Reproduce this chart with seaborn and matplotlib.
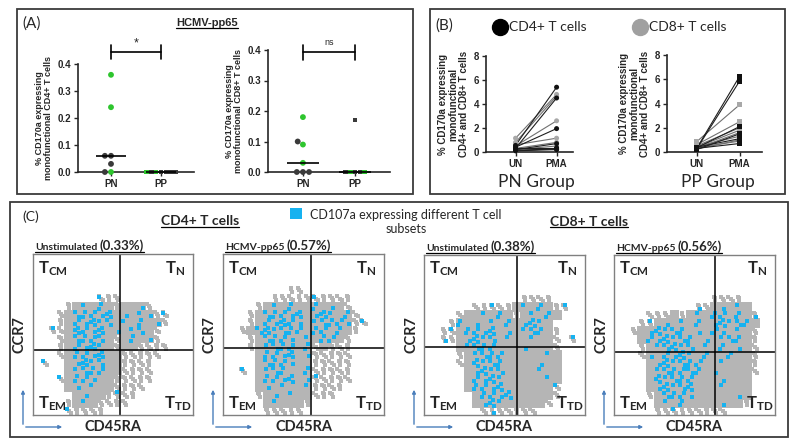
import numpy as np
import pandas as pd
import matplotlib
matplotlib.use('Agg')
import matplotlib.pyplot as plt
import seaborn as sns
from matplotlib.patches import Rectangle, FancyArrowPatch
from matplotlib.lines import Line2D

# ---------------- panel A : HCMV-pp65 dot plots ----------------
a_groups = ['PN', 'PP']
cd4_pn = [0.36, 0.24, 0.06, 0.06, 0.03, 0.0, 0.0]
cd4_pn_col = ['g', 'g', 'k', 'k', 'k', 'k', 'g']
cd4_pp = [0.0, 0.0, 0.0, 0.0, 0.0, 0.0, 0.0]
cd4_pp_col = ['k', 'g', 'k', 'k', 'k', 'g', 'k']
cd8_pn = [0.18, 0.09, 0.10, 0.03, 0.0, 0.0, 0.0]
cd8_pn_col = ['g', 'g', 'k', 'g', 'k', 'k', 'k']
cd8_pp = [0.17, 0.0, 0.0, 0.0, 0.0, 0.0]
cd8_pp_col = ['k', 'k', 'g', 'k', 'k', 'g']

# ---------------- panel B : UN vs PMA paired lines ----------------
b_times = ['UN', 'PMA']
pn_cd4_un = [0.55, 0.30, 0.40, 0.20, 0.35, 0.15, 0.10]
pn_cd4_pma = [5.4, 4.5, 1.95, 0.70, 0.35, 0.25, 0.20]
pn_cd8_un = [1.15, 0.80, 0.50, 0.60, 0.30, 0.20, 0.10]
pn_cd8_pma = [4.8, 4.65, 2.6, 1.15, 0.80, 0.50, 0.30]
pp_cd4_un = [0.30, 0.25, 0.35, 0.20, 0.40, 0.30]
pp_cd4_pma = [6.25, 5.85, 2.1, 1.5, 1.1, 0.7]
pp_cd8_un = [0.85, 0.60, 0.50, 0.40, 0.30, 0.45, 0.25, 0.35]
pp_cd8_pma = [3.9, 2.5, 2.0, 1.8, 1.6, 1.3, 1.0, 0.9]

# ---------------- panel C : flow plots, density ----------------
# '.' empty, ':' few grey events, '#' dense grey, '+' dense + cyan, '*' dense + more cyan, 'o' few grey + cyan
grid_cd4_un = [
    "....................",
    "....................",
    "....................",
    "....................",
    "....................",
    "........o::.........",
    "....:#+#+#:##+:.....",
    "...:#*+*+*#+#++:o...",
    "...:#*+*+*#+#+#+:...",
    "..o:#**+*#+#+*#:....",
    "...:#*+**#:#+#+:....",
    "...:#*+*+#:##::::...",
    "...:#+*+*##:::::....",
    ".o..#+*+*##::::.....",
    "....#+*+*##::::.....",
    "...o#+*+##:::::.....",
    "....#+#+##::::......",
    ".....#+##:o::.......",
    "....:#+#::::........",
    "....o::::...........",
]
grid_cd4_pp65 = [
    "....................",
    "....................",
    "....................",
    "....................",
    "........::..........",
    "......:::::o::::....",
    "....:#+#+##+#+#:....",
    "...:#*+*+*#+*+#+:...",
    "...:#*+**+#+*+*+:o..",
    "..:#**+*+*#+*#+#:...",
    "...:#*+*+#+#+*#:....",
    "...:#+*+*#+:#:::....",
    "....#+*+*#+:::::....",
    "....#*+*+##:::::....",
    "..o.#+*+##+:::::....",
    "....#+*+*#+o::::....",
    "....#+#+##+::::.....",
    "....:#+#+##:::......",
    ".....#+###:.........",
    ".....:::::..........",
]
grid_cd8_un = [
    "....................",
    "....................",
    "....................",
    "....................",
    "....................",
    "............::::....",
    "......::o::#+#+#:o..",
    "....:##+#+#:#+#+#...",
    "...:+#+#+#+#+*+#....",
    "..:o#+*+*#+#+*+#:...",
    "..o:#+*+*#+##+##:.o.",
    "....#+*+*###+###:...",
    "....:#+*+*#####+#...",
    "....:#*+*+####+##...",
    ".....#+*+*####+##...",
    ".....#*+*+#####+#...",
    ".....#+*+*######o...",
    "......#+*+*#####:...",
    "......#+*+#####:....",
    ".......:o:::::......",
]
grid_cd8_pp65 = [
    "....................",
    "....................",
    "....................",
    "....................",
    "....................",
    "............::::....",
    "..........o:#+#+#...",
    "....:::#:#+#+*#+#o..",
    "...:o#+#+#+#+*+*+#..",
    "..:#+*+*+#+#*+#+#:..",
    "...#*+*+*+#+#+*+#:..",
    "...:#+**+*#+#+#+#:..",
    "...:+#*+*+#+##+##:..",
    "....#+*+*+*##+###:..",
    "....#+*+**+#+####:..",
    "....#*+*+*###+###...",
    "....#+*+**###+###...",
    "....:#*+*+#####+#...",
    ".....#+#+####+##:...",
    ".....::o::::::......",
]
flow_grids = [grid_cd4_un, grid_cd4_pp65, grid_cd8_un, grid_cd8_pp65]
flow_titles = ['Unstimulated', 'HCMV-pp65', 'Unstimulated', 'HCMV-pp65']
flow_pcts = ['(0.33%)', '(0.57%)', '(0.38%)', '(0.56%)']
flow_gate_x = [10.85, 10.97, 11.6, 12.5]
flow_gate_y = [8.1, 8.28, 8.49, 7.87]

W, H = 800, 447
sns.set_style('ticks')
plt.rcParams['font.family'] = ['Liberation Sans', 'DejaVu Sans']
plt.rcParams['mathtext.fontset'] = 'custom'
plt.rcParams['mathtext.bf'] = 'Lato:bold'
plt.rcParams['mathtext.rm'] = 'Lato'
plt.rcParams['mathtext.it'] = 'Lato:italic'
CAL = ['Lato', 'DejaVu Sans']

fig = plt.figure(figsize=(8, 4.47), dpi=100)
fig.patch.set_facecolor('white')


def rect(x0, y0, x1, y1):
    return [x0 / W, 1 - y1 / H, (x1 - x0) / W, (y1 - y0) / H]


def fx(x):
    return x / W


def fy(y):
    return 1 - y / H


# panel frames
for x0, y0, x1, y1 in [(17, 9, 413, 194), (430, 9, 785, 194), (10, 202, 788, 437)]:
    fig.add_artist(Rectangle((fx(x0), fy(y1)), (x1 - x0) / W, (y1 - y0) / H,
                             transform=fig.transFigure, fill=False, ec='#3a3a3a', lw=1.3))

# ---------- panel A ----------
dot_pal = {'g': '#2ec52e', 'k': '#3a3a3a'}


def dot_panel(ax, pn, pn_c, pp, pp_c, ylab, bar_y, star, star_y):
    pn_df = pd.DataFrame({'group': 'PN', 'value': pn, 'c': pn_c})
    pp_df = pd.DataFrame({'group': 'PP', 'value': pp, 'c': pp_c})
    sns.swarmplot(data=pn_df, x='group', y='value', hue='c', order=a_groups, palette=dot_pal,
                  marker='o', size=4.2, ax=ax, legend=False, clip_on=False, zorder=3)
    sns.swarmplot(data=pp_df, x='group', y='value', hue='c', order=a_groups, palette=dot_pal,
                  marker='s', size=3.3, ax=ax, legend=False, clip_on=False, zorder=3)
    for i, vals in enumerate([pn, pp]):
        ax.hlines(np.median(vals), i - 0.3, i + 0.3, color='black', lw=1.2, zorder=4, clip_on=False)
    ax.set_ylim(0, 0.4)
    ax.set_yticks([0, 0.1, 0.2, 0.3, 0.4])
    ax.set_yticklabels(['0.0', '0.1', '0.2', '0.3', '0.4'])
    ax.set_xlabel('')
    ax.set_ylabel(ylab, fontsize=6.5, fontweight='bold', labelpad=3, linespacing=1.05)
    ax.tick_params(labelsize=7, length=3, width=1, pad=2)
    for lab in ax.get_xticklabels() + ax.get_yticklabels():
        lab.set_fontweight('bold')
    sns.despine(ax=ax)
    for s in ['left', 'bottom']:
        ax.spines[s].set_linewidth(1.2)
    ax.plot([0, 1], [bar_y, bar_y], color='black', lw=1.2, clip_on=False)
    d = 0.025
    ax.plot([0, 0], [bar_y - d, bar_y + d], color='black', lw=1.2, clip_on=False)
    ax.plot([1, 1], [bar_y - d, bar_y + d], color='black', lw=1.2, clip_on=False)
    ax.text(0.5, star_y, star, ha='center', va='center', fontsize=9 if star == '*' else 6.5)


axA1 = fig.add_axes(rect(78, 64, 194, 172))
dot_panel(axA1, cd4_pn, cd4_pn_col, cd4_pp, cd4_pp_col,
          '% CD170a expressing\nmonofunctional CD4+ T cells', 0.445, '*', 0.475)
axA1.set_xlim(-0.66, 1.66)
axA2 = fig.add_axes(rect(268, 50, 390, 172))
dot_panel(axA2, cd8_pn, cd8_pn_col, cd8_pp, cd8_pp_col,
          '% CD170a expressing\nmonofunctional CD8+ T cells', 0.393, 'ns', 0.425)
axA2.set_xlim(-0.67, 1.67)

fig.text(fx(22), fy(24), '(A)', fontsize=11, family=CAL, va='center')
t_hcmv = fig.text(fx(207), fy(23), 'HCMV-pp65', fontsize=8, fontweight='bold', ha='center', va='center')

# ---------- panel B ----------
line_pal = {'CD4': '#1e1e1e', 'CD8': '#707070'}
mark_pal = {'CD4': '#111111', 'CD8': '#a8a8a8'}


def paired_df(cd4_un, cd4_pma, cd8_un, cd8_pma):
    rows = []
    for cell, un, pma in [('CD8', cd8_un, cd8_pma), ('CD4', cd4_un, cd4_pma)]:
        for i, (a, b) in enumerate(zip(un, pma)):
            rows.append((cell, f'{cell}-{i}', b_times[0], a))
            rows.append((cell, f'{cell}-{i}', b_times[1], b))
    return pd.DataFrame(rows, columns=['cell', 'subject', 'time', 'value'])


def paired_panel(ax, df, marker):
    sns.lineplot(data=df, x='time', y='value', hue='cell', units='subject', estimator=None,
                 palette=line_pal, lw=0.8, ax=ax, legend=False, sort=False)
    sns.scatterplot(data=df, x='time', y='value', hue='cell', palette=mark_pal, marker=marker,
                    s=13, linewidth=0, ax=ax, legend=False, zorder=3, clip_on=False)
    ax.set_ylim(0, 8)
    ax.set_yticks([0, 2, 4, 6, 8])
    ax.set_xlabel('')
    ax.set_ylabel('% CD170a expressing\nmonofunctional\nCD4+ and CD8+ T cells',
                  fontsize=7, fontweight='bold', labelpad=3, linespacing=1.1)
    ax.tick_params(labelsize=7, length=3, width=1, pad=2)
    for lab in ax.get_xticklabels() + ax.get_yticklabels():
        lab.set_fontweight('bold')
    sns.despine(ax=ax)
    for s in ['left', 'bottom']:
        ax.spines[s].set_linewidth(1.2)


axB1 = fig.add_axes(rect(486, 56, 573, 152))
paired_panel(axB1, paired_df(pn_cd4_un, pn_cd4_pma, pn_cd8_un, pn_cd8_pma), 'o')
axB1.set_xlim(-0.72, 1.4)
axB2 = fig.add_axes(rect(667, 55, 762, 152))
paired_panel(axB2, paired_df(pp_cd4_un, pp_cd4_pma, pp_cd8_un, pp_cd8_pma), 's')
axB2.set_xlim(-0.69, 1.52)

fig.text(fx(536), fy(182), 'PN Group', fontsize=12.5, family=CAL, ha='center', va='center')
fig.text(fx(718), fy(182), 'PP Group', fontsize=12.5, family=CAL, ha='center', va='center')
fig.text(fx(435), fy(26), '(B)', fontsize=11, family=CAL, va='center')
fig.add_artist(Line2D([fx(500)], [fy(27)], marker='o', ms=11.5, color='black', transform=fig.transFigure))
fig.text(fx(509), fy(27), 'CD4+ T cells', fontsize=10, family=CAL, va='center')
fig.add_artist(Line2D([fx(640)], [fy(27)], marker='o', ms=11.5, color='#a0a0a0', transform=fig.transFigure))
fig.text(fx(649), fy(27), 'CD8+ T cells', fontsize=10, family=CAL, va='center')

# ---------- panel C ----------
gray_c = '#b5b5b5'
cyan_c = '#16b2f0'
# where the cyan events sit inside one grid cell (fractions of the cell)
plus_spots = [[(0.3, 0.7)], [(0.7, 0.3)], [(0.5, 0.8), (0.2, 0.2)]]
star_spots = [[(0.2, 0.25), (0.75, 0.75)], [(0.8, 0.2), (0.25, 0.8)], [(0.2, 0.5), (0.75, 0.15), (0.6, 0.85)]]


def grid_points(grid):
    n = len(grid)
    gx, gy, cx, cy = [], [], [], []
    for r, row in enumerate(grid):
        row = row.ljust(20, '.')[:20]
        for c, ch in enumerate(row):
            y0 = n - 1 - r
            if ch in '#+*':
                for i in range(3):
                    for j in range(3):
                        gx.append(c + (i + 0.5) / 3)
                        gy.append(y0 + (j + 0.5) / 3)
            elif ch in ':o':
                k = (r + 2 * c) % 3
                gx += [c + 0.2 + 0.1 * k, c + 0.75 - 0.1 * k, c + 0.5]
                gy += [y0 + 0.75, y0 + 0.25, y0 + 0.45 + 0.1 * k]
            k = (2 * r + c) % 3
            if ch == 'o':
                cx.append(c + plus_spots[k][0][0])
                cy.append(y0 + plus_spots[k][0][1])
            elif ch == '+':
                cx += [c + p[0] for p in plus_spots[k]]
                cy += [y0 + p[1] for p in plus_spots[k]]
            elif ch == '*':
                cx += [c + p[0] for p in star_spots[k]]
                cy += [y0 + p[1] for p in star_spots[k]]
    return pd.DataFrame({'x': gx, 'y': gy}), pd.DataFrame({'x': cx, 'y': cy})


flow_boxes = [(33, 254, 193, 415), (223, 254, 384, 415), (424, 255, 585, 415), (614, 255, 775, 415)]
title_texts = []
for k, (x0, y0, x1, y1) in enumerate(flow_boxes):
    ax = fig.add_axes(rect(x0, y0, x1, y1))
    g_df, c_df = grid_points(flow_grids[k])
    sns.scatterplot(data=g_df, x='x', y='y', color=gray_c, marker='s', s=5.5, linewidth=0, ax=ax)
    sns.scatterplot(data=c_df, x='x', y='y', color=cyan_c, marker='s', s=6.5, linewidth=0, ax=ax)
    ax.axvline(flow_gate_x[k], color='black', lw=1.1)
    ax.axhline(flow_gate_y[k], color='black', lw=1.1)
    ax.set_xlim(0, 20)
    ax.set_ylim(0, 20)
    ax.set_xticks([])
    ax.set_yticks([])
    ax.set_xlabel('')
    ax.set_ylabel('')
    for s in ax.spines.values():
        s.set_color('#808080')
        s.set_linewidth(1)
    lab = dict(transform=ax.transAxes, fontsize=12)
    ax.text(0.03, 0.97, r'$\mathbf{T_{CM}}$', ha='left', va='top', **lab)
    ax.text(0.95, 0.97, r'$\mathbf{T_{N}}$', ha='right', va='top', **lab)
    ax.text(0.03, 0.01, r'$\mathbf{T_{EM}}$', ha='left', va='bottom', **lab)
    ax.text(0.99, 0.01, r'$\mathbf{T_{TD}}$', ha='right', va='bottom', **lab)
    fig.text(fx(x0 - 13), fy((y0 + y1) / 2), 'CCR7', rotation=90, fontsize=10.5, fontweight='bold',
             family=CAL, ha='center', va='center')
    fig.text(fx((x0 + x1) / 2), fy(y1 + 12), 'CD45RA', fontsize=10.5, fontweight='bold',
             family=CAL, ha='center', va='center')
    ox, oy = x0 - 10, y1 + 12
    for ex, ey in [(ox, oy - 40), (ox + 42, oy)]:
        fig.add_artist(FancyArrowPatch((fx(ox), fy(oy)), (fx(ex), fy(ey)), transform=fig.transFigure,
                                       arrowstyle='-|>', mutation_scale=5, color='#4a7ebb', lw=1))
    t1 = fig.text(fx(x0 + 2), fy(y0 - 4), flow_titles[k], fontsize=7.5, fontweight='bold',
                  family=CAL, va='baseline')
    title_texts.append(t1)

fig.text(fx(22), fy(217), '(C)', fontsize=10, family=CAL, va='center')
t_cd4 = fig.text(fx(200), fy(221), 'CD4+ T cells', fontsize=10, fontweight='bold', family=CAL,
                 ha='center', va='center')
t_cd8 = fig.text(fx(589), fy(222), 'CD8+ T cells', fontsize=10, fontweight='bold', family=CAL,
                 ha='center', va='center')
fig.add_artist(Rectangle((fx(290), fy(219)), 12 / W, 11 / H, transform=fig.transFigure,
                         color=cyan_c, lw=0))
fig.text(fx(406), fy(222), 'CD107a expressing different T cell\nsubsets', fontsize=9, family=CAL,
         ha='center', va='center', linespacing=1.25)

# ---- second pass: percentages after the titles, then underlines ----
fig.canvas.draw()
rend = fig.canvas.get_renderer()
pct_texts = []
for k, t1 in enumerate(title_texts):
    bb = t1.get_window_extent(rend)
    _, ty = t1.get_position()
    pct_texts.append(fig.text((bb.x1 + 2) / W, ty, flow_pcts[k], fontsize=9.5, fontweight='bold',
                              family=CAL, va='baseline'))
fig.canvas.draw()


def underline(*texts):
    bbs = [t.get_window_extent(rend) for t in texts]
    x0 = min(b.x0 for b in bbs)
    x1 = max(b.x1 for b in bbs)
    y = min(b.y0 for b in bbs) + 0.5
    fig.add_artist(Line2D([x0 / W, x1 / W], [y / H, y / H], transform=fig.transFigure,
                          color='black', lw=0.9))


underline(t_hcmv)
underline(t_cd4)
underline(t_cd8)
for t1, t2 in zip(title_texts, pct_texts):
    underline(t1, t2)

fig.savefig('out.png', dpi=100)
